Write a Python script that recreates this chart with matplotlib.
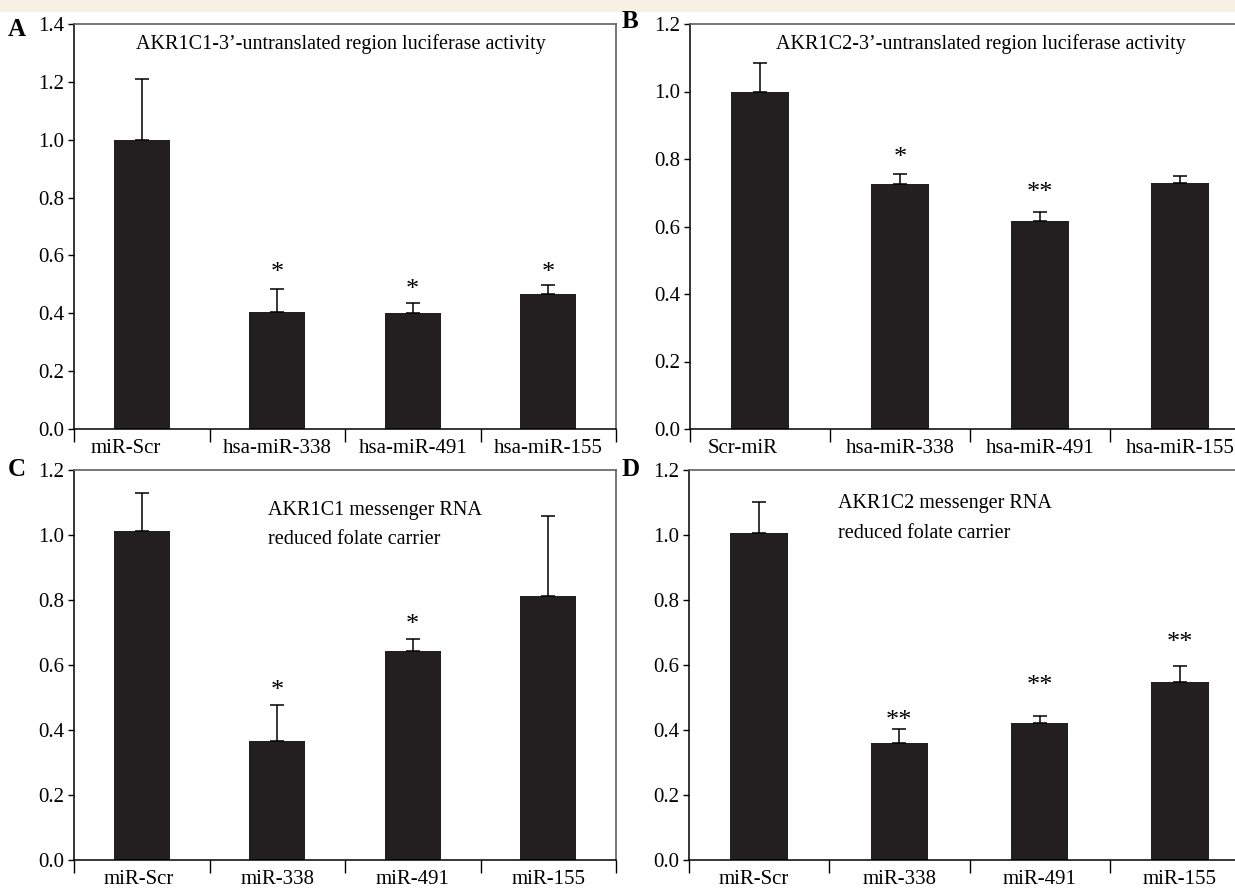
import matplotlib
matplotlib.use("Agg")
import matplotlib.pyplot as plt
from matplotlib.patches import Rectangle
from matplotlib.transforms import ScaledTranslation
import numpy as np

plt.rcParams['font.family'] = ['Liberation Serif', 'DejaVu Serif']

# ---- data ----
labels_A = ["miR-Scr", "hsa-miR-338", "hsa-miR-491", "hsa-miR-155"]
values_A = [1.00, 0.405, 0.40, 0.467]
errors_A = [0.21, 0.078, 0.035, 0.030]
stars_A = ["", "*", "*", "*"]
title_A = "AKR1C1-3\u2019-untranslated region luciferase activity"

labels_B = ["Scr-miR", "hsa-miR-338", "hsa-miR-491", "hsa-miR-155"]
values_B = [1.00, 0.725, 0.617, 0.730]
errors_B = [0.085, 0.032, 0.026, 0.020]
stars_B = ["", "*", "**", ""]
title_B = "AKR1C2-3\u2019-untranslated region luciferase activity"

labels_C = ["miR-Scr", "miR-338", "miR-491", "miR-155"]
values_C = [1.012, 0.365, 0.643, 0.812]
errors_C = [0.118, 0.112, 0.038, 0.245]
stars_C = ["", "*", "*", ""]
title_C = "AKR1C1 messenger RNA\nreduced folate carrier"

labels_D = ["miR-Scr", "miR-338", "miR-491", "miR-155"]
values_D = [1.005, 0.360, 0.422, 0.548]
errors_D = [0.097, 0.043, 0.022, 0.050]
stars_D = ["", "**", "**", "**"]
title_D = "AKR1C2 messenger RNA\nreduced folate carrier"

# heights (data units) at which the significance marks sit
star_y_A = [0, 0.502, 0.443, 0.502]
star_y_B = [0, 0.770, 0.667, 0]
star_y_C = [0, 0.486, 0.689, 0]
star_y_D = [0, 0.394, 0.502, 0.634]

W, H = 1235, 890
fig = plt.figure(figsize=(W / 100, H / 100), dpi=100)
fig.patch.set_facecolor("white")
fig.patches.append(Rectangle((0, 1 - 12 / H), 1, 12 / H, transform=fig.transFigure,
                             facecolor="#f6f1e3", edgecolor="none", zorder=0))


def px_axes(l, r, t, b):
    return fig.add_axes([l / W, 1 - b / H, (r - l) / W, (b - t) / H])


def panel(ax, labels, values, errors, stars, star_y, title, ymax, title_xy, letter,
          letter_xy, first_label_shift):
    n = len(labels)
    x = np.arange(n)
    ax.bar(x, values, width=0.41, color="#231f20", edgecolor="none", zorder=2)
    ax.errorbar(x, values, yerr=[np.zeros(n), errors], fmt="none", ecolor="black",
                elinewidth=1.1, capsize=5, capthick=1.1, zorder=3)
    for xi, s, sy in zip(x, stars, star_y):
        if s:
            ax.text(xi, sy, s, ha="center", va="bottom", fontsize=19)
    ax.set_xlim(-0.5, n - 0.5)
    ax.set_ylim(0, ymax)
    yt = np.arange(0, ymax + 0.001, 0.2)
    ax.set_yticks(yt)
    ax.set_yticklabels([f"{t:.1f}" for t in yt])
    ax.set_xticks(x)
    ax.set_xticklabels(labels)
    ax.set_xticks(np.arange(-0.5, n, 1.0), minor=True)
    ax.tick_params(axis="x", which="major", length=0, labelsize=15, pad=7)
    ax.tick_params(axis="x", which="minor", length=9, width=1.0, direction="out")
    ax.tick_params(axis="y", length=4, width=1.0, labelsize=15, direction="out", pad=3)
    if first_label_shift:
        lab = ax.get_xticklabels()[0]
        lab.set_transform(lab.get_transform() +
                          ScaledTranslation(first_label_shift / 100, 0, fig.dpi_scale_trans))
    for side in ("left", "bottom"):
        ax.spines[side].set_color("black")
        ax.spines[side].set_linewidth(1.1)
    for side in ("top", "right"):
        ax.spines[side].set_color("#606060")
        ax.spines[side].set_linewidth(1.2)
    ax.text(title_xy[0], title_xy[1], title, transform=ax.transAxes, ha="left", va="top",
            fontsize=14.5, linespacing=1.75)
    fig.text(letter_xy[0] / W, 1 - letter_xy[1] / H, letter, fontsize=18, fontweight="bold",
             ha="left", va="center")


axA = px_axes(74, 616, 24, 429)
axB = px_axes(690, 1250, 24, 429)
axC = px_axes(74, 616, 470, 860)
axD = px_axes(689, 1250, 470, 860)

panel(axA, labels_A, values_A, errors_A, stars_A, star_y_A, title_A, 1.4,
      ((136 - 74) / 542, 1 - (34 - 24) / 405), "A", (8, 30), -16)
panel(axB, labels_B, values_B, errors_B, stars_B, star_y_B, title_B, 1.2,
      ((776 - 690) / 560, 1 - (34 - 24) / 405), "B", (622, 22), -17)
panel(axC, labels_C, values_C, errors_C, stars_C, star_y_C, title_C, 1.2,
      ((268 - 74) / 542, 1 - (501 - 470) / 390), "C", (8, 470), -3)
panel(axD, labels_D, values_D, errors_D, stars_D, star_y_D, title_D, 1.2,
      ((838 - 689) / 561, 1 - (494 - 470) / 390), "D", (622, 470), -5)

fig.savefig("out.png", dpi=100, facecolor=fig.get_facecolor())
